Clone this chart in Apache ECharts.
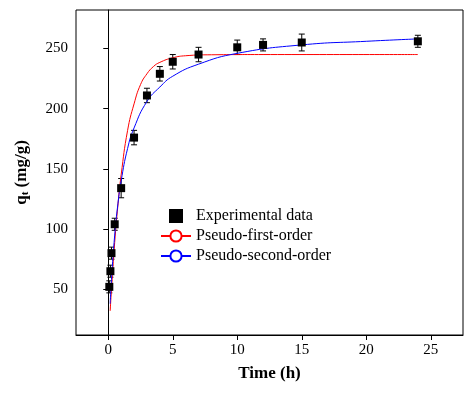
<!DOCTYPE html><html><head><meta charset="utf-8"><script src="https://cdn.jsdelivr.net/npm/echarts@6/dist/echarts.min.js"></script></head><body style="margin:0"><div id="c" style="width:474px;height:400px"></div><script>
const expT=[0.083,0.167,0.25,0.5,1,2,3,4,5,7,10,12,15,24];
const expQ=[52,65,80,104,134,176,211,229,239,245,251,253,255,256];
const expErr=[5,5,5,5,8,6,6,6,6,6,6,5,7,5];
const pfoT=[0.15,0.25,0.5,0.75,1,1.5,2,2.5,3,3.5,4,5,6,8,12,24];
const pfoQ=[32,50,89,120,145,182,204,220,229,235,238.5,242.3,244,244.8,245,245];
const psoT=[0.15,0.25,0.5,0.75,1,1.5,2,3,4,5,7,10,15,20,24];
const psoQ=[38,58,95,121,140,167,184,206,218,227,237,246,253,256,258];
const xTicks=[0,5,10,15,20,25];
const yTicks=[50,100,150,200,250];
const F='Liberation Serif';
const zip=(a,b)=>a.map((v,i)=>[v,b[i]]);
const ch=echarts.init(document.getElementById('c'));
const ax={show:true,lineStyle:{color:'#000',width:1}};
ch.setOption({
animation:false,
grid:{left:76,right:11,top:10,bottom:65,show:true,borderColor:'#000',borderWidth:1,backgroundColor:'transparent'},
xAxis:{type:'value',min:-2.5,max:27.5,name:'Time (h)',nameLocation:'middle',nameGap:30,
 nameTextStyle:{fontFamily:F,fontWeight:'bold',fontSize:17,color:'#000'},
 axisLine:ax,axisTick:{show:true,customValues:xTicks,lineStyle:{color:'#000'}},
 axisLabel:{customValues:xTicks,fontFamily:F,fontSize:15,color:'#000'},splitLine:{show:false}},
yAxis:{type:'value',min:12,max:282,name:'q{s|t} (mg/g)',nameLocation:'middle',nameGap:45,
 nameTextStyle:{fontFamily:F,fontWeight:'bold',fontSize:17,color:'#000',rich:{s:{fontFamily:F,fontWeight:'bold',fontSize:11,verticalAlign:'bottom',padding:[8,0,0,0]}}},
 axisLine:ax,axisTick:{show:true,customValues:yTicks,lineStyle:{color:'#000'}},
 axisLabel:{customValues:yTicks,fontFamily:F,fontSize:15,color:'#000'},splitLine:{show:false}},
legend:{left:155,top:203,orient:'vertical',itemGap:4,itemWidth:30,itemHeight:14,
 textStyle:{fontFamily:F,fontSize:16,color:'#000'},
 data:[{name:'Experimental data',icon:'path://M0,0h8v8h-8z',itemStyle:{color:'#000'}},{name:'Pseudo-first-order'},{name:'Pseudo-second-order'}]},
series:[
 {name:'Pseudo-first-order',type:'line',smooth:true,showSymbol:false,data:zip(pfoT,pfoQ),lineStyle:{color:'#ff0000',width:1},itemStyle:{color:'#ff0000'}},
 {name:'Pseudo-second-order',type:'line',smooth:true,showSymbol:false,data:zip(psoT,psoQ),lineStyle:{color:'#0000ff',width:1},itemStyle:{color:'#0000ff'}},
 {type:'custom',data:expT.map((t,i)=>[t,expQ[i]-expErr[i],expQ[i]+expErr[i]]),z:3,
  renderItem:(p,api)=>{const a=api.coord([api.value(0),api.value(1)]),b=api.coord([api.value(0),api.value(2)]);
   const s={stroke:'#000',lineWidth:1};
   return {type:'group',children:[
    {type:'line',shape:{x1:a[0],y1:a[1],x2:b[0],y2:b[1]},style:s},
    {type:'line',shape:{x1:a[0]-3,y1:a[1],x2:a[0]+3,y2:a[1]},style:s},
    {type:'line',shape:{x1:b[0]-3,y1:b[1],x2:b[0]+3,y2:b[1]},style:s}]};}},
 {name:'Experimental data',type:'scatter',symbol:'rect',symbolSize:8,data:zip(expT,expQ),itemStyle:{color:'#000',opacity:1},z:4}
]});
</script></body></html>
